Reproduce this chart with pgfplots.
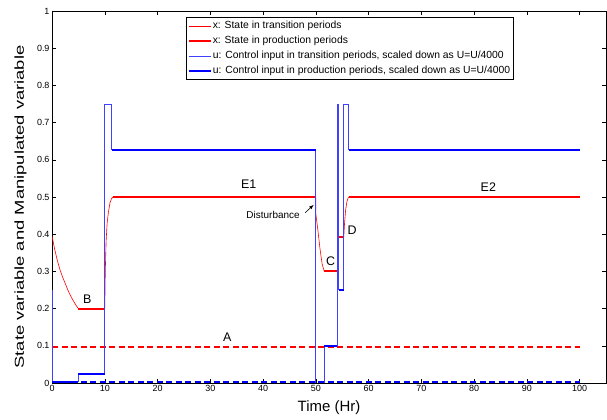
\documentclass[border=0pt]{standalone}
\usepackage{fontspec}
\setmainfont{Liberation Sans}
\usepackage{pgfplots}
\pgfplotsset{compat=1.18}
\begin{document}
\begin{tikzpicture}
\begin{axis}[
  scale only axis,
  width=554bp, height=372bp,
  xmin=0, xmax=105, ymin=0, ymax=1,
  xtick={0,10,...,100},
  ytick={0,0.1,...,1},
  tick align=inside,
  major tick length=4bp,
  every tick/.style={black, line width=0.5bp},
  axis line style={black, line width=0.8bp},
  /pgf/number format/assume math mode=true,
  /pgf/number format/fixed,
  /pgf/number format/precision=1,
  ticklabel style={font=\fontsize{9}{10}\selectfont},
  xticklabel style={yshift=1bp},
  yticklabel style={xshift=1bp},
  xlabel={Time (Hr)},
  ylabel={State variable and Manipulated variable},
  xlabel style={font=\fontsize{15}{17}\selectfont, at={(axis description cs:0.5,-0.067)}, anchor=center, inner sep=0pt},
  ylabel style={font=\fontsize{13}{15}\selectfont, at={(axis description cs:-0.057,0.473)}, anchor=center, inner sep=0pt, xscale=1.42},
  legend style={at={(0.241,0.983)}, anchor=north west, draw=black, line width=0.6bp, fill=white,
    font=\fontsize{10.4}{12}\selectfont, inner xsep=2bp, inner ysep=2bp, row sep=2.6bp,
    nodes={inner sep=1bp, text height=8bp, text depth=2.5bp}},
  legend cell align=left,
  legend image code/.code={\draw[#1] (0bp,0bp) -- (22bp,0bp);},
]
% legend entries
\addlegendimage{red, line width=0.6bp}
\addlegendentry{x: State in transition periods}
\addlegendimage{red, line width=2bp}
\addlegendentry{x: State in production periods}
\addlegendimage{blue!75, line width=0.8bp}
\addlegendentry{u: Control input in transition periods, scaled down as U=U/4000}
\addlegendimage{blue, line width=2bp}
\addlegendentry{u: Control input in production periods, scaled down as U=U/4000}

% dashed set points
\addplot[forget plot, red, line width=2bp, dash pattern=on 6bp off 3.5bp] coordinates {(0,0.097) (100,0.097)};
\addplot[forget plot, blue, line width=2bp, dash pattern=on 6bp off 3.5bp] coordinates {(0,0.002) (100,0.002)};

% red thin: transition periods
\addplot[forget plot, red, line width=0.6bp] coordinates {(0,0.395) (0.5,0.36) (1,0.33) (1.5,0.305) (2,0.285) (2.5,0.268) (3,0.25) (3.5,0.235) (4,0.222) (4.5,0.21) (5,0.2)};
\addplot[forget plot, red, line width=0.6bp] coordinates {(10,0.2) (10.1,0.3) (10.25,0.38) (10.45,0.43) (10.7,0.46) (11,0.485) (11.3,0.496) (11.6,0.5)};
\addplot[forget plot, red, line width=0.6bp] coordinates {(50,0.5) (50,0.455) (50.4,0.41) (50.8,0.36) (51.2,0.32) (51.6,0.30)};
\addplot[forget plot, red, line width=0.6bp] coordinates {(54,0.3) (54,0.393) (54.3,0.393)};
\addplot[forget plot, red, line width=0.6bp] coordinates {(55.3,0.393) (55.45,0.43) (55.65,0.465) (55.9,0.488) (56.2,0.5)};
% red thick: production periods
\addplot[forget plot, red, line width=2bp] coordinates {(5,0.2) (10,0.2)};
\addplot[forget plot, red, line width=2bp] coordinates {(11.6,0.5) (50,0.5)};
\addplot[forget plot, red, line width=2bp] coordinates {(51.6,0.3) (54,0.3)};
\addplot[forget plot, red, line width=2bp] coordinates {(54.3,0.393) (55.3,0.393)};
\addplot[forget plot, red, line width=2bp] coordinates {(56.2,0.5) (100,0.5)};

% blue thin: transition periods
\addplot[forget plot, blue!75, line width=0.8bp] coordinates {(0,0.25) (0,0.004)};
\addplot[forget plot, blue!75, line width=0.8bp] coordinates {(5,0.004) (5,0.025)};
\addplot[forget plot, blue!75, line width=0.8bp] coordinates {(10,0.025) (10,0.75) (11.3,0.75) (11.3,0.625)};
\addplot[forget plot, blue!75, line width=0.8bp] coordinates {(50,0.625) (50,0) (51.6,0) (51.6,0.1)};
\addplot[forget plot, blue!75, line width=0.8bp] coordinates {(54,0.1) (54,0.75) (54.3,0.75) (54.3,0.25)};
\addplot[forget plot, blue!75, line width=0.8bp] coordinates {(55.3,0.25) (55.3,0.75) (56.2,0.75) (56.2,0.625)};
% blue thick: production periods
\addplot[forget plot, blue, line width=2bp] coordinates {(0,0.004) (5,0.004)};
\addplot[forget plot, blue, line width=2bp] coordinates {(5,0.025) (10,0.025)};
\addplot[forget plot, blue, line width=2bp] coordinates {(11.3,0.625) (50,0.625)};
\addplot[forget plot, blue, line width=2bp] coordinates {(51.6,0.1) (54,0.1)};
\addplot[forget plot, blue, line width=2bp] coordinates {(54.3,0.25) (55.3,0.25)};
\addplot[forget plot, blue, line width=2bp] coordinates {(56.2,0.625) (100,0.625)};

% annotations
\node[font=\fontsize{12.5}{14}\selectfont] at (axis cs:33.2,0.124) {A};
\node[font=\fontsize{12.5}{14}\selectfont] at (axis cs:6.7,0.224) {B};
\node[font=\fontsize{12.5}{14}\selectfont] at (axis cs:52.8,0.328) {C};
\node[font=\fontsize{12.5}{14}\selectfont] at (axis cs:56.9,0.41) {D};
\node[font=\fontsize{12.5}{14}\selectfont] at (axis cs:37.3,0.534) {E1};
\node[font=\fontsize{12.5}{14}\selectfont] at (axis cs:82.7,0.527) {E2};
\node[font=\fontsize{10}{12}\selectfont] at (axis cs:41.9,0.452) {Disturbance};
\draw[-latex, line width=0.6bp] (axis cs:48.0,0.458) -- (axis cs:49.6,0.479);
\end{axis}
\pgfresetboundingbox
\path ([shift={(-52bp,-37bp)}]current axis.south west) rectangle ([shift={(1bp,11bp)}]current axis.north east);
\end{tikzpicture}
\end{document}
